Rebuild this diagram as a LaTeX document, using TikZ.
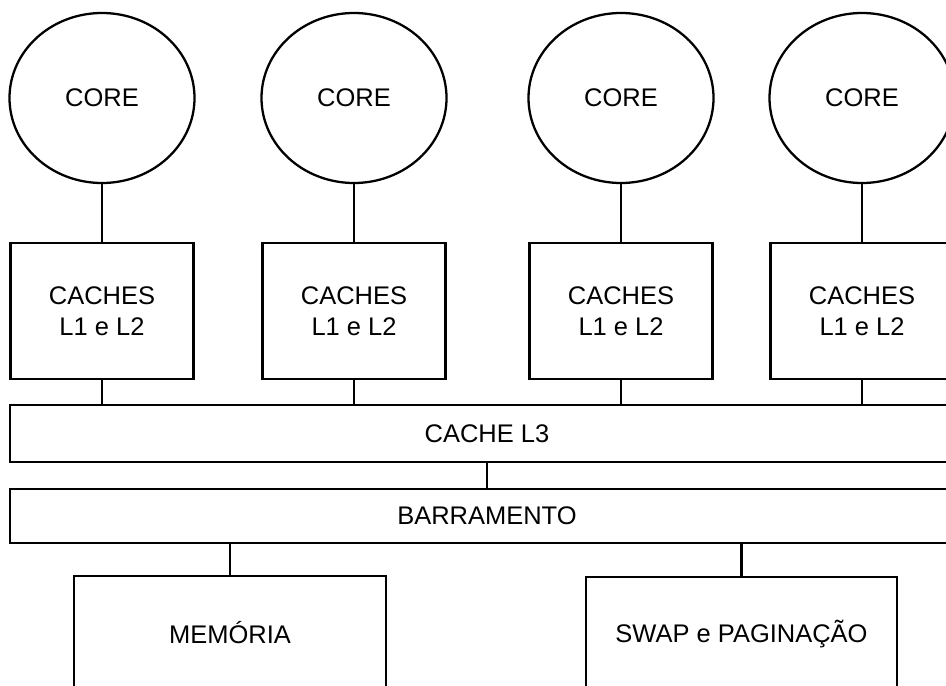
\documentclass[tikz,border=0pt]{standalone}
\usepackage{fontspec}
\setmainfont{Liberation Sans}
\usepackage{tikz}
\usetikzlibrary{shapes.geometric,positioning}

\begin{document}
\begin{tikzpicture}[line width=1.3pt,
    every node/.style={font=\fontsize{14.5}{17.6}\selectfont},
    core/.style={draw, ellipse, minimum width=3.7cm, minimum height=3.4cm, inner sep=0pt},
    cachebox/.style={draw, minimum width=3.66cm, minimum height=2.72cm, align=center, inner sep=0pt},
    bar/.style={draw, minimum width=19.08cm, inner sep=0pt},
    lowbox/.style={draw, minimum width=6.23cm, minimum height=2.28cm, inner sep=0pt}]
  \clip (0,0) rectangle (18.92,13.7);
  \fill[white] (0,0) rectangle (18.92,13.7);
  % cores and their private caches
  \foreach \i/\x in {1/2.04, 2/7.08, 3/12.42, 4/17.24} {
    \node[core] (core\i) at (\x,11.74) {CORE};
    \node[cachebox] (cache\i) at (\x,7.48) {CACHES\\L1 e L2};
  }
  \node[bar, minimum height=1.14cm] (ltres) at (9.74,5.03) {CACHE L3};
  \node[bar, minimum height=1.08cm] (barr) at (9.74,3.38) {BARRAMENTO};
  \node[lowbox] (mem) at (4.6,1.04) {MEMÓRIA};
  \node[lowbox] (swap) at (14.83,1.02) {SWAP e PAGINAÇÃO};
  % connectors
  \foreach \i in {1,...,4} {
    \draw (core\i.south) -- (cache\i.north);
    \draw (cache\i.south) -- (cache\i.south |- ltres.north);
  }
  \draw (ltres.south) -- (barr.north);
  \draw (mem.north |- barr.south) -- (mem.north);
  \draw (swap.north |- barr.south) -- (swap.north);
\end{tikzpicture}
\end{document}
